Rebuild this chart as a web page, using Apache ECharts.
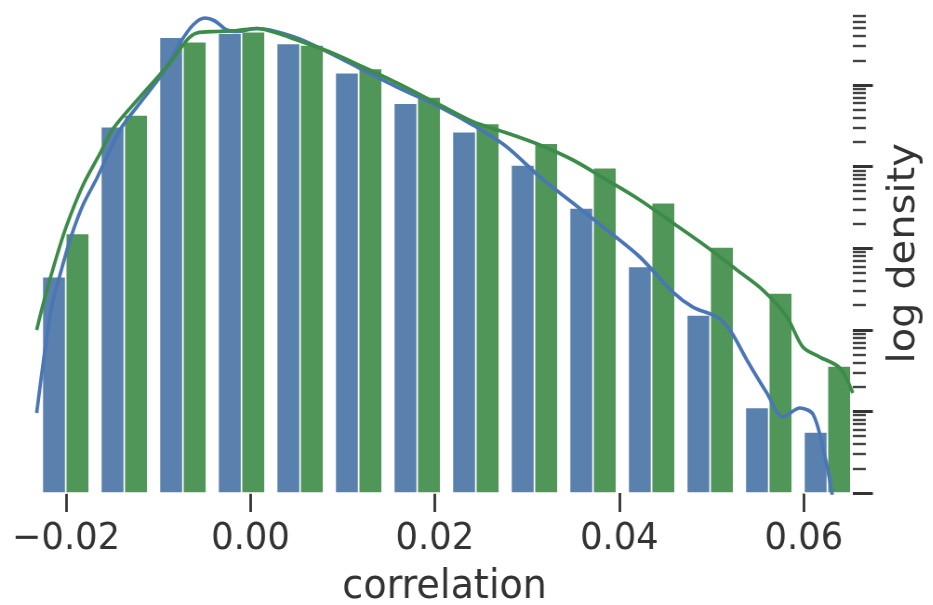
<!DOCTYPE html>
<html>
<head>
<meta charset="utf-8">
<script src="https://cdn.jsdelivr.net/npm/echarts@6/dist/echarts.min.js"></script>
<style>
  html, body { margin: 0; padding: 0; background: #fff; overflow: hidden; }
  /* the figure is drawn wide and narrowed horizontally, like the printed figure */
  #chart { width: 1003px; height: 605px; transform: scaleX(0.93); transform-origin: 0 0; }
</style>
</head>
<body>
<div id="chart"></div>
<script>
// Histogram bin edges (correlation)
const binEdges = [-0.0232, -0.01685, -0.0105, -0.00414, 0.00221, 0.00856, 0.01491,
                  0.02126, 0.02762, 0.03397, 0.04032, 0.04667, 0.05302, 0.05938, 0.06573];

// Log-scale bar heights for the two samples
const blueHist = [448, 30800, 385000, 430000, 323000, 142000, 59700,
                  26800, 10500, 3110, 597, 152, 11.2, 5.6];
const greenHist = [1520, 42900, 340000, 450000, 309000, 160000, 71300,
                   33800, 19300, 9700, 3610, 1035, 282, 36];

// Kernel density estimates: [correlation, density]
const blueKde = [
  [-0.02318, 9.56], [-0.02228, 56.5], [-0.02152, 201], [-0.02065, 469], [-0.01957, 1260],
  [-0.01816, 3380], [-0.01664, 7250], [-0.01415, 28100], [-0.01198, 60200], [-0.00949, 140300],
  [-0.00764, 327000], [-0.00623, 543500], [-0.00493, 662000], [-0.00385, 608700], [-0.00255, 472000],
  [-0.00146, 452600], [0.00070, 492300], [0.00211, 472000], [0.00504, 376700], [0.00862, 246600],
  [0.01220, 152700], [0.01588, 94500], [0.02054, 53700], [0.02412, 32300], [0.02780, 17400],
  [0.03138, 7460], [0.03496, 3580], [0.03865, 1670], [0.04222, 780], [0.04580, 290],
  [0.04797, 190], [0.05057, 143.5], [0.05198, 99.5], [0.05382, 42.7], [0.05599, 16.8],
  [0.05772, 8.54], [0.05957, 11.0], [0.06098, 9.29], [0.06206, 3.66], [0.06304, 1.0],
  [0.06358, 0.265]
];
const greenKde = [
  [-0.02318, 99.5], [-0.02228, 252], [-0.02119, 678], [-0.02000, 1800], [-0.01816, 5900],
  [-0.01631, 14500], [-0.01491, 29000], [-0.01198, 71300], [-0.00873, 186100], [-0.00688, 356000],
  [-0.00580, 433600], [-0.00363, 452600], [-0.00146, 465400], [0.00070, 492300], [0.00287, 433600],
  [0.00504, 356000], [0.00862, 253600], [0.01220, 166200], [0.01588, 105800], [0.02054, 56900],
  [0.02412, 35500], [0.02780, 25800], [0.03138, 18400], [0.03496, 12050], [0.03865, 6850],
  [0.04222, 3900], [0.04580, 2037], [0.04949, 1035], [0.05274, 541], [0.05556, 307],
  [0.05816, 143.5], [0.05989, 61.5], [0.06173, 46.4], [0.06390, 34.0], [0.06531, 16.8]
];

// Axis ticks
const xTicks = [-0.02, 0.00, 0.02, 0.04, 0.06];
const yMajorTicks = [1, 10, 100, 1000, 10000, 100000];
const yMinorTicks = [];
for (let e = 0; e <= 5; e++) {
  for (let m = 2; m <= 9; m++) yMinorTicks.push(m * Math.pow(10, e));
}

const xMin = -0.0232, xMax = 0.06531;
const yMin = 1, yMax = 750000;

const fontFamily = 'DejaVu Sans';
const ink = '#333333';
const blueBar = '#5a80ae', greenBar = '#519659';
const blueLine = '#4a76b5', greenLine = '#3b8c48';

function barData(values) {
  return values.map((v, i) => [binEdges[i], binEdges[i + 1], v]);
}

// each bin holds two side-by-side bars filling 80% of its width
function barRenderer(slot) {
  return function (params, api) {
    const x0 = api.value(0), x1 = api.value(1), v = api.value(2);
    const w = x1 - x0;
    const left = x0 + w * (0.1 + 0.4 * slot);
    const right = left + w * 0.4;
    const pTop = api.coord([left, v]);
    const pBase = api.coord([right, yMin]);
    return {
      type: 'rect',
      shape: { x: pTop[0], y: pTop[1], width: pBase[0] - pTop[0], height: pBase[1] - pTop[1] },
      style: { fill: api.visual('color'), stroke: '#ffffff', lineWidth: 1.6 }
    };
  };
}

const yBase = {
  type: 'log', logBase: 10, min: yMin, max: yMax, position: 'right',
  axisLine: { show: false }, axisLabel: { show: false }, splitLine: { show: false }
};

const chart = echarts.init(document.getElementById('chart'), null, { renderer: 'canvas', width: 1003, height: 605 });
chart.setOption({
  animation: false,
  backgroundColor: '#ffffff',
  grid: { left: 39.2, right: 86, top: 13.6, bottom: 112, outerBoundsMode: 'none' },
  xAxis: {
    type: 'value', min: xMin, max: xMax,
    axisLine: { show: false },
    splitLine: { show: false },
    axisTick: { show: true, customValues: xTicks, length: 19, lineStyle: { color: ink, width: 2.8 } },
    axisLabel: {
      customValues: xTicks, margin: 27, fontSize: 38, color: ink, fontFamily: fontFamily,
      formatter: v => (v < 0 ? '\u2212' : '') + Math.abs(v).toFixed(2)
    },
    name: 'correlation', nameLocation: 'middle', nameGap: 74,
    nameTextStyle: { fontSize: 41, color: ink, fontFamily: fontFamily }
  },
  yAxis: [
    Object.assign({}, yBase, {
      axisTick: { show: false },
      name: 'log density', nameLocation: 'middle', nameGap: 36, nameRotate: 90,
      nameTextStyle: { fontSize: 40, color: ink, fontFamily: fontFamily }
    }),
    Object.assign({}, yBase, {
      axisTick: { show: true, customValues: yMajorTicks, length: 21.5, lineStyle: { color: ink, width: 3 } }
    }),
    Object.assign({}, yBase, {
      axisTick: { show: true, customValues: yMinorTicks, length: 14, lineStyle: { color: '#444444', width: 2.4 } }
    })
  ],
  series: [
    {
      type: 'custom', name: 'blue', yAxisIndex: 0, color: blueBar,
      renderItem: barRenderer(0), encode: { x: [0, 1], y: 2 }, data: barData(blueHist), z: 1
    },
    {
      type: 'custom', name: 'green', yAxisIndex: 0, color: greenBar,
      renderItem: barRenderer(1), encode: { x: [0, 1], y: 2 }, data: barData(greenHist), z: 1
    },
    {
      type: 'line', yAxisIndex: 0, data: blueKde, showSymbol: false, smooth: 0.3, clip: true,
      lineStyle: { color: blueLine, width: 3.7 }, z: 3
    },
    {
      type: 'line', yAxisIndex: 0, data: greenKde, showSymbol: false, smooth: 0.3, clip: true,
      lineStyle: { color: greenLine, width: 3.7 }, z: 4
    }
  ]
});
</script>
</body>
</html>
